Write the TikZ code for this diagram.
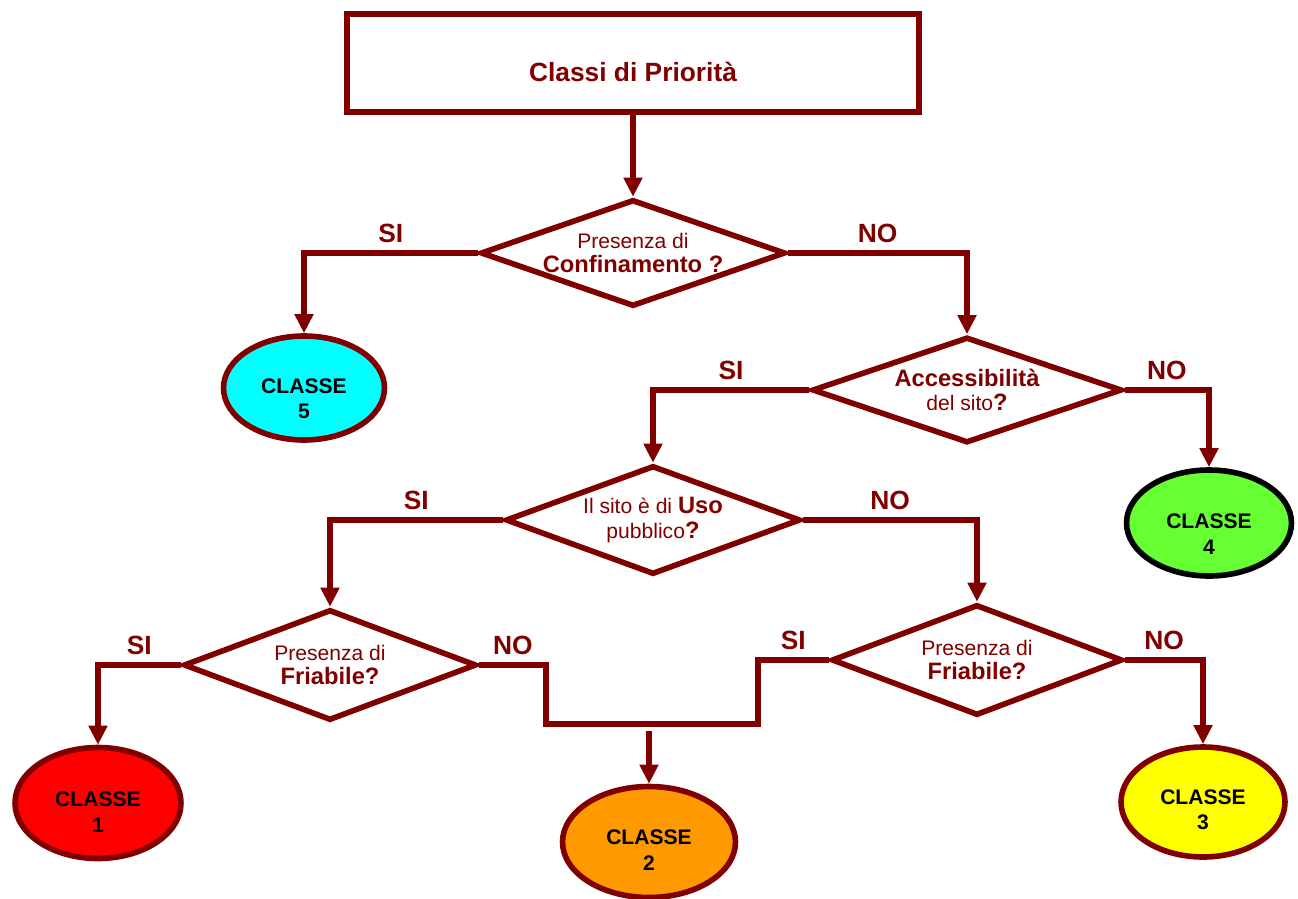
\documentclass[tikz,border=0pt]{standalone}
\usepackage{fontspec}
\setmainfont{Liberation Sans}
\usetikzlibrary{arrows.meta,shapes.geometric}
\definecolor{brick}{HTML}{800000}
\definecolor{cls5}{HTML}{00FFFF}
\definecolor{cls4}{HTML}{66FF33}
\definecolor{cls3}{HTML}{FFFF00}
\definecolor{cls2}{HTML}{FF9900}
\definecolor{cls1}{HTML}{FF0000}
\newcommand{\qb}[1]{{\fontsize{13.5}{14}\selectfont\bfseries #1}}

\begin{document}
\begin{tikzpicture}[x=0.02cm,y=-0.02cm,
        flow/.style={draw=brick,line width=3.2pt},
        arr/.style={flow,-{Triangle[width=0.36cm,length=0.38cm]}},
        decision/.style={diamond,draw=brick,line width=3.2pt,inner sep=-2pt,
            text=brick,align=center,font=\fontsize{12}{14}\selectfont},
        classe/.style={ellipse,draw=brick,line width=3.2pt,inner sep=0pt},
        clstext/.style={align=center,font=\fontsize{12}{14.5}\selectfont\bfseries},
        answer/.style={above,inner sep=4pt,text=brick,font=\fontsize{15}{16}\selectfont\bfseries}]
                \useasboundingbox (0,0) rectangle (1298,899);

                \node[draw=brick,line width=3.2pt,minimum width=11.44cm,minimum height=1.96cm,
                    text=brick,font=\fontsize{15}{18}\selectfont\bfseries,
                    text height=21pt,text depth=0pt] (title) at (633,63) {Classi di Priorità};

                \node[decision,aspect=2.85,minimum width=6.1cm,minimum height=2.14cm] (d1) at (633,253)
                    {Presenza di\\\qb{Confinamento ?}};
                \node[decision,aspect=2.92,minimum width=6.2cm,minimum height=2.12cm] (d2) at (967,390)
                    {\qb{Accessibilità}\\del sito\qb{?}};
                \node[decision,aspect=2.7,minimum width=5.9cm,minimum height=2.18cm] (d3) at (653,520)
                    {Il sito è di \qb{Uso}\\pubblico\qb{?}};
                \node[decision,aspect=2.64,minimum width=5.86cm,minimum height=2.22cm] (d4) at (330,665)
                    {Presenza di\\\qb{Friabile?}};
                \node[decision,aspect=2.62,minimum width=5.82cm,minimum height=2.22cm] (d5) at (977,660)
                    {Presenza di\\\qb{Friabile?}};

                \node[classe,fill=cls5,minimum width=3.22cm,minimum height=2.08cm] (c5) at (304,388) {};
                \node[clstext] at ([yshift=-0.22cm]c5.center) {CLASSE\\5};
                \node[classe,draw=black,fill=cls4,minimum width=3.3cm,minimum height=2.12cm] (c4) at (1209,523) {};
                \node[clstext] at ([yshift=-0.22cm]c4.center) {CLASSE\\4};
                \node[classe,fill=cls1,minimum width=3.32cm,minimum height=2.22cm] (c1) at (98,803) {};
                \node[clstext] at ([yshift=-0.18cm]c1.center) {CLASSE\\1};
                \node[classe,fill=cls2,minimum width=3.46cm,minimum height=2.22cm] (c2) at (649,842) {};
                \node[clstext] at ([yshift=-0.16cm]c2.center) {CLASSE\\2};
                \node[classe,fill=cls3,minimum width=3.28cm,minimum height=2.2cm] (c3) at (1203,802) {};
                \node[clstext] at ([yshift=-0.16cm]c3.center) {CLASSE\\3};

                \draw[arr] (title.south) -- (d1.north);

                \draw[arr] (d1.west) -| node[answer,pos=0.25] {SI} (c5.north);
                \draw[arr] (d1.east) -| node[answer,pos=0.25] {NO} (d2.north);

                \draw[arr] (d2.west) -| node[answer,pos=0.25] {SI} (d3.north);
                \draw[arr] (d2.east) -| node[answer,pos=0.25] {NO} (c4.north);

                \draw[arr] (d3.west) -| node[answer,pos=0.25] {SI} (d4.north);
                \draw[arr] (d3.east) -| node[answer,pos=0.25] {NO} (d5.north);

                \draw[arr] (d4.west) -| node[answer,pos=0.25] {SI} (c1.north);
                \draw[arr] (d5.east) -| node[answer,pos=0.25] {NO} (c3.north);

                \coordinate (join) at (649,724);
                \coordinate (drop) at (649,731);
                \draw[flow] (d4.east) -- node[answer] {NO} ++(67,0) |- (join)
                    -| ([xshift=-1.42cm]d5.west) -- node[answer] {SI} (d5.west);
                \draw[arr] (drop) -- (c2.north);
            \end{tikzpicture}
\end{document}
